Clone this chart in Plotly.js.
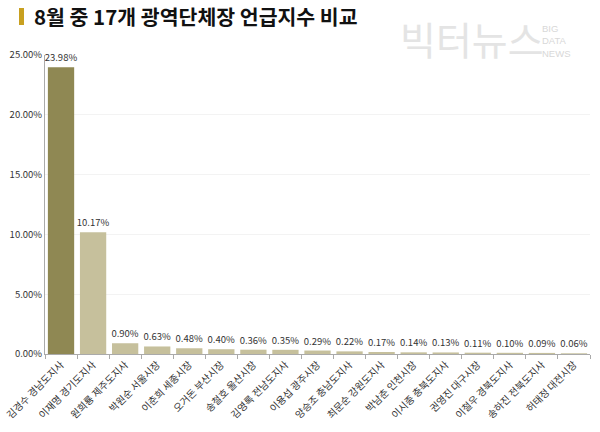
<!DOCTYPE html>
<html><head><meta charset="utf-8">
<script src="https://cdn.plot.ly/plotly-3.0.1.min.js"></script>
<style>body{margin:0;background:#fff}#c{width:600px;height:432px}</style>
</head><body><div id="c"></div>
<script>
const categories = ["김경수 경남도지사","이재명 경기도지사","원희룡 제주도지사","박원순 서울시장","이춘희 세종시장","오거돈 부산시장","송철호 울산시장","김영록 전남도지사","이용섭 광주시장","양승조 충남도지사","최문순 강원도지사","박남춘 인천시장","이시종 충북도지사","권영진 대구시장","이철우 경북도지사","송하진 전북도지사","허태정 대전시장"];
const values = [23.98,10.17,0.90,0.63,0.48,0.40,0.36,0.35,0.29,0.22,0.17,0.14,0.13,0.11,0.10,0.09,0.06];
const yTicks = [0,5,10,15,20,25];
const watermarkWords = ["BIG","DATA","NEWS"];

const colors = values.map((v,i)=> i===0 ? "#8f8853" : "#c6c09c");
const font = "Noto Sans CJK KR, Noto Sans, sans-serif";
const px = x => (x-45)/545, py = y => (354-y)/299;

const trace = {
  type:"bar", x:categories, y:values,
  marker:{color:colors},
  text: values.map(v=>v.toFixed(2)+"%"),
  textposition:"outside", cliponaxis:false, constraintext:"none",
  textfont:{size:9.5, color:"#333", family:font},
  hoverinfo:"skip"
};
const annotations = [
  {text:"<b>8월 중 17개 광역단체장 언급지수 비교</b>", xref:"paper", yref:"paper",
   x:px(32), y:py(16), xanchor:"left", yanchor:"middle", showarrow:false,
   font:{size:20.5,color:"#111",family:font}},
  {text:"빅터뉴스", xref:"paper", yref:"paper", x:px(398), y:py(38),
   xanchor:"left", yanchor:"middle", showarrow:false, font:{size:39,color:"#e4e4e4",family:font}},
  {text:watermarkWords.join("<br>"), xref:"paper", yref:"paper",
   x:px(540), y:py(41), xanchor:"left", yanchor:"middle", align:"left", showarrow:false,
   font:{size:9.5,color:"#d8d8d8",family:"Liberation Sans Narrow, Liberation Sans, sans-serif"}}
];
const layout = {
  width:600, height:432,
  margin:{l:45,r:10,t:55,b:78},
  paper_bgcolor:"#fff", plot_bgcolor:"#fff",
  bargap:0.18,
  showlegend:false,
  xaxis:{type:"category", tickangle:-45, tickfont:{size:10,color:"#333",family:font},
    showline:true, linecolor:"#aaa", ticks:"outside", tickson:"boundaries", ticklen:4, tickcolor:"#aaa",
    showgrid:false, automargin:false},
  yaxis:{range:[0,25], tickvals:yTicks, ticktext:yTicks.map(v=>v.toFixed(2)+"%"),
    tickfont:{size:9.5,color:"#333",family:font}, showline:true, linecolor:"#aaa",
    gridcolor:"#f3f3f3", zeroline:false, automargin:false},
  shapes:[{type:"rect", xref:"paper", yref:"paper", x0:px(19), x1:px(24), y0:py(8), y1:py(25), line:{width:0}, fillcolor:"#c8a020"}],
  annotations:annotations
};
Plotly.newPlot("c",[trace],layout,{displayModeBar:false,staticPlot:true});
</script></body></html>
